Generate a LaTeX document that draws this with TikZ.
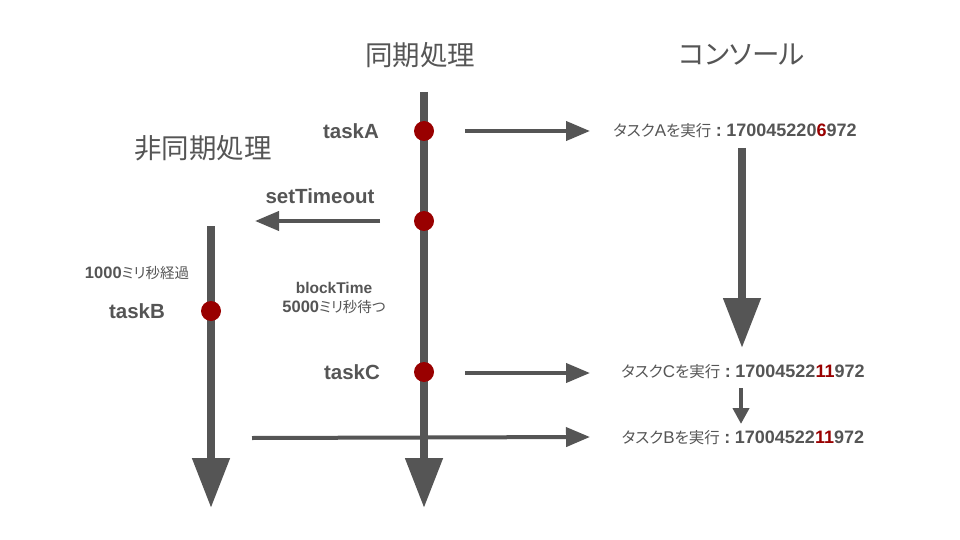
\documentclass[tikz,border=0pt]{standalone}
\usepackage{fontspec}
\setmainfont{Noto Sans CJK JP}[RawFeature=+palt]
\newfontfamily\lat{Liberation Sans}
\usetikzlibrary{arrows.meta}
\definecolor{ink}{HTML}{555555}
\definecolor{dotred}{HTML}{990000}
\tikzset{
  timeline/.style={draw=ink, line width=8pt, -{Triangle[width=36pt,length=50pt]}},
  bigarrow/.style={draw=ink, line width=8pt, -{Triangle[width=36pt,length=50pt]}},
  smallarrow/.style={draw=ink, line width=4pt, -{Triangle[width=16pt,length=16pt]}},
  msgarrow/.style={draw=ink, line width=4pt, -{Triangle[width=19pt,length=24pt]}},
  event/.style={circle, fill=dotred, minimum size=20pt, inner sep=0pt},
  heading/.style={text=ink, font=\fontsize{27.5}{30}\selectfont, inner sep=0pt},
  tasklabel/.style={text=ink, font=\fontsize{20.5}{24}\selectfont\lat\bfseries, inner sep=0pt},
  note/.style={text=ink, font=\fontsize{14.5}{19}\selectfont, inner sep=0pt, align=center},
  console/.style={text=ink, font=\fontsize{15.5}{18}\selectfont, inner sep=0pt},
}
\newcommand{\hl}[1]{\textcolor{dotred}{#1}}
\newcommand{\latb}[2]{{\fontsize{#1}{#1}\selectfont\lat\bfseries #2}}
\newcommand{\latr}[2]{{\fontsize{#1}{#1}\selectfont\lat #2}}
\newcommand{\csep}{\hspace{4.5pt}\latb{18}{:}\hspace{4.5pt}}
\begin{document}
\begin{tikzpicture}[x=1pt,y=-1pt]
\useasboundingbox (0,0) rectangle (960,540);
% headings
\node[heading] (hsync) at (420,55) {同期処理};
\node[heading] (hconsole) at (742,55) {コンソール};
\node[heading] (hasync) at (203,148) {非同期処理};
% timelines
\coordinate (mtop) at (424,92);
\coordinate (mbot) at (424,508);
\coordinate (atop) at (211,226);
\coordinate (abot) at (211,508);
\draw[timeline] (mtop) -- (mbot);
\draw[timeline] (atop) -- (abot);
% events
\node[event] (eA) at (424,131) {};
\node[event] (eT) at (424,221) {};
\node[event] (eC) at (424,372) {};
\node[event] (eB) at (211,311) {};
% labels
\node[tasklabel] (lA) at (351,131) {taskA};
\node[tasklabel] (lT) at (320,196) {setTimeout};
\node[tasklabel] (lC) at (352,372) {taskC};
\node[tasklabel] (lB) at (137,311) {taskB};
\node[note] (n1000) at (137,273) {\latb{16.5}{1000}ミリ秒経過};
\node[note] (nblock) at (334,298) {\latb{15.5}{blockTime}\\\latb{16.5}{5000}ミリ秒待つ};
% console
\node[console] (cA) at (735,131) {タスク\latr{17}{A}を実行\csep\latb{18}{170045220\hl{6}972}};
\node[console] (cC) at (743,372) {タスク\latr{17}{C}を実行\csep\latb{18}{17004522\hl{11}972}};
\node[console] (cB) at (743,438) {タスク\latr{17}{B}を実行\csep\latb{18}{17004522\hl{11}972}};
% message arrows
\coordinate (sA) at (465,131);
\coordinate (tA) at (590,131);
\coordinate (sC) at (465,373);
\coordinate (tC) at (590,373);
\coordinate (sT) at (380,221);
\coordinate (tT) at (255,221);
\coordinate (sB) at (252,438);
\coordinate (tB) at (590,437);
\draw[msgarrow] (sA) -- (tA);
\draw[msgarrow] (sC) -- (tC);
\draw[msgarrow] (sT) -- (tT);
\draw[msgarrow] (sB) -- (tB);
% console ordering arrows
\coordinate (cAb) at (742,148);
\coordinate (cCt) at (742,348);
\draw[bigarrow] (cAb) -- (cCt);
\coordinate (cCb) at (741,388);
\coordinate (cBt) at (741,424);
\draw[smallarrow] (cCb) -- (cBt);
\end{tikzpicture}
\end{document}
